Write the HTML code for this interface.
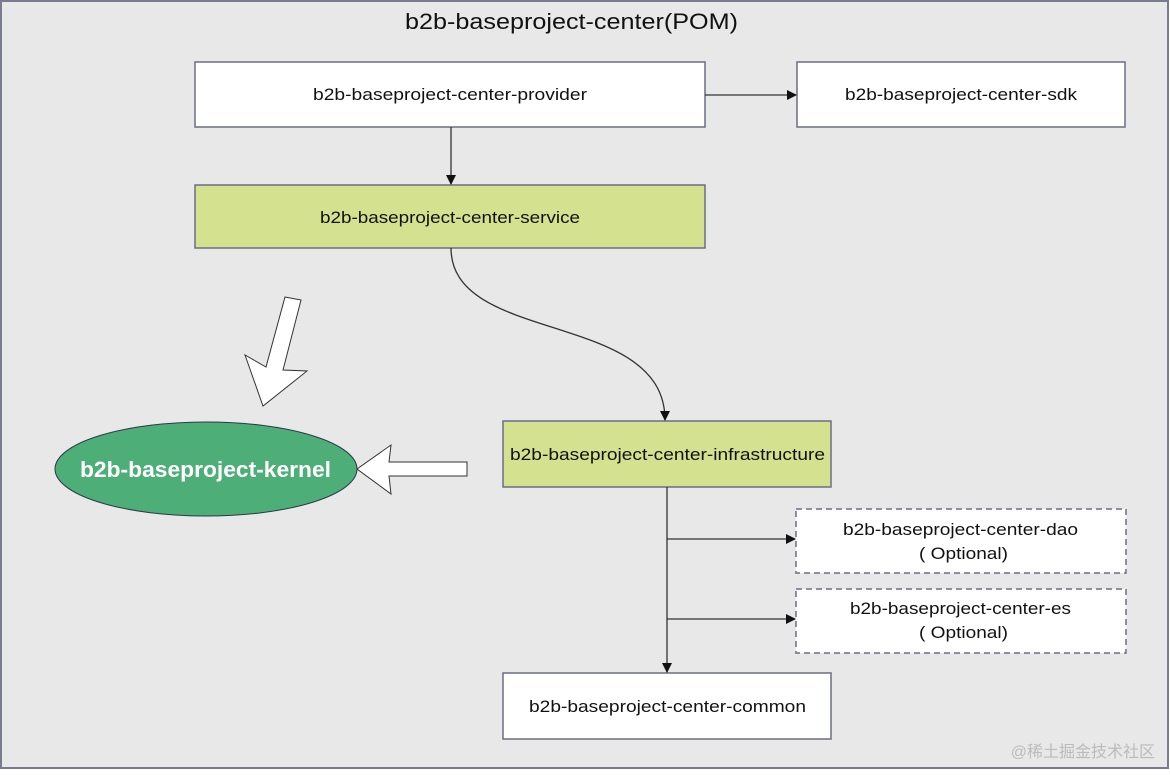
<!DOCTYPE html>
<html><head><style>
body{margin:0;background:#fff}
svg text{font-family:"Liberation Sans","DejaVu Sans",sans-serif;fill:#111}
</style></head><body>
<svg width="1170" height="770" xmlns="http://www.w3.org/2000/svg">
<defs><marker id="a" markerWidth="10" markerHeight="10" refX="9" refY="5" orient="auto" markerUnits="userSpaceOnUse"><path d="M0,0 L10,5 L0,10z" fill="#111"/></marker></defs>
<rect x="1" y="1" width="1167" height="767" fill="#e8e8e8" stroke="#7a7a90" stroke-width="2"/>
<text x="405" y="29" font-size="22" textLength="333" lengthAdjust="spacingAndGlyphs">b2b-baseproject-center(POM)</text>
<g stroke="#6c6c88" stroke-width="1.5">
<rect x="195" y="62" width="510" height="65" fill="#fff"/>
<rect x="797" y="62" width="328" height="65" fill="#fff"/>
<rect x="195" y="185" width="510" height="63" fill="#d4e18e"/>
<rect x="503" y="421" width="328" height="66" fill="#d4e18e"/>
<rect x="503" y="673" width="328" height="66" fill="#fff"/>
<rect x="796" y="509" width="330" height="64" fill="#fff" stroke-dasharray="6,4"/>
<rect x="796" y="589" width="330" height="64" fill="#fff" stroke-dasharray="6,4"/>
</g>
<g stroke="#333" stroke-width="1.3" fill="none">
<line x1="705" y1="95" x2="796" y2="95" marker-end="url(#a)"/>
<line x1="451" y1="127" x2="451" y2="184" marker-end="url(#a)"/>
<path d="M451,248 C451,345 665,310 665,420" marker-end="url(#a)"/>
<line x1="667" y1="487" x2="667" y2="672" marker-end="url(#a)"/>
<line x1="667" y1="539" x2="795" y2="539" marker-end="url(#a)"/>
<line x1="667" y1="619" x2="795" y2="619" marker-end="url(#a)"/>
</g>
<polygon points="285,297 301,300 283,370 307,371 263,406 245,355 266,367" fill="#fff" stroke="#333" stroke-width="1"/>
<polygon points="467,462 389,462 391,445 357,469 391,494 389,476 467,476" fill="#fff" stroke="#333" stroke-width="1"/>
<ellipse cx="206" cy="469" rx="151" ry="47" fill="#4dae77" stroke="#2a3a4a" stroke-width="1"/>
<text x="80" y="477" font-size="22" font-weight="bold" textLength="251" lengthAdjust="spacingAndGlyphs" style="fill:#fff">b2b-baseproject-kernel</text>
<g font-size="17" lengthAdjust="spacingAndGlyphs">
<text x="313" y="100" textLength="274" lengthAdjust="spacingAndGlyphs">b2b-baseproject-center-provider</text>
<text x="845" y="100" textLength="232" lengthAdjust="spacingAndGlyphs">b2b-baseproject-center-sdk</text>
<text x="320" y="223" textLength="260" lengthAdjust="spacingAndGlyphs">b2b-baseproject-center-service</text>
<text x="510" y="460" textLength="315" lengthAdjust="spacingAndGlyphs">b2b-baseproject-center-infrastructure</text>
<text x="529" y="712" textLength="277" lengthAdjust="spacingAndGlyphs">b2b-baseproject-center-common</text>
<text x="843" y="535" textLength="235" lengthAdjust="spacingAndGlyphs">b2b-baseproject-center-dao</text>
<text x="919" y="559" textLength="89" lengthAdjust="spacingAndGlyphs">( Optional)</text>
<text x="850" y="614" textLength="221" lengthAdjust="spacingAndGlyphs">b2b-baseproject-center-es</text>
<text x="919" y="638" textLength="89" lengthAdjust="spacingAndGlyphs">( Optional)</text>
</g>
<text x="1155" y="757" font-size="16" text-anchor="end" style="fill:#bbb;font-family:'Liberation Sans','Noto Sans CJK SC',sans-serif">@稀土掘金技术社区</text>
</svg>
</body></html>
